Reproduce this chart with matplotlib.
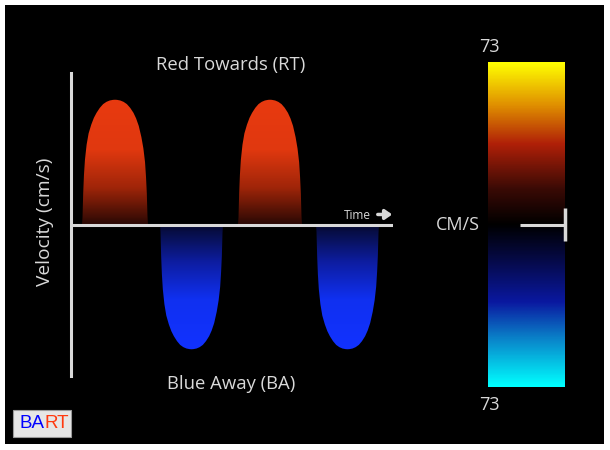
import matplotlib.pyplot as plt
import numpy as np
from matplotlib.colors import LinearSegmentedColormap
from matplotlib.patches import Polygon, Rectangle
from matplotlib.text import Annotation

# pulse outline: fraction of pulse width, fraction of peak
shape_t = [0.0, 0.008, 0.018, 0.03, 0.045, 0.07, 0.10, 0.14, 0.18, 0.22, 0.27,
           0.32, 0.37, 0.42, 0.47, 0.50, 0.53, 0.58, 0.63, 0.68, 0.73, 0.78,
           0.82, 0.86, 0.90, 0.93, 0.955, 0.97, 0.982, 0.992, 1.0]
shape_h = [0.0, 0.06, 0.25, 0.40, 0.52, 0.64, 0.73, 0.80, 0.855, 0.895, 0.935,
           0.965, 0.983, 0.994, 0.999, 1.0, 0.999, 0.994, 0.983, 0.965, 0.935, 0.895,
           0.85, 0.79, 0.70, 0.61, 0.50, 0.38, 0.25, 0.07, 0.0]

# pulses: start (s), end (s), peak velocity (cm/s)
pulse_start = [0.11, 0.89, 1.67, 2.45]
pulse_end = [0.77, 1.52, 2.31, 3.08]
pulse_peak = [56, -56, 56, -56]

t_max = 3.22
v_lim = 68
scale_max = 73

scale_pos = [0.0, 0.15, 0.26, 0.41, 0.5, 0.61, 0.75, 0.87, 1.0]
scale_cols = ['#00ffff', '#0a80c8', '#0a18a0', '#05083a', '#000000',
              '#3a0a05', '#b02008', '#e09000', '#ffff00']

wave_pos = [0.0, 0.2, 0.35, 0.499, 0.501, 0.65, 0.8, 1.0]
wave_cols = ['#1232ff', '#1030f0', '#0d1da0', '#060a30', '#2a0804', '#a02509', '#e0380f', '#e83a10']

fg = '#d9d9d9'
font = 'Open Sans'

fig = plt.figure(figsize=(6.1, 4.5), dpi=100, facecolor='white')
bg = fig.add_axes([5 / 610, 1 - 444 / 450, 599 / 610, 439 / 450])
bg.set_facecolor('black')
bg.set_xticks([])
bg.set_yticks([])
for s in bg.spines.values():
    s.set_visible(False)

# waveform
ax = fig.add_axes([71 / 610, 1 - 376 / 450, 322 / 610, 303 / 450])
ax.set_facecolor('none')
ax.set_xlim(0, t_max)
ax.set_ylim(-v_lim, v_lim)

t_all, v_all = [0.0], [0.0]
for a, b, p in zip(pulse_start, pulse_end, pulse_peak):
    t_all += [a + f * (b - a) for f in shape_t]
    v_all += [p * h for h in shape_h]
t_all.append(t_max)
v_all.append(0.0)

wave_cmap = LinearSegmentedColormap.from_list('wave', list(zip(wave_pos, wave_cols)))
grad = np.linspace(-v_lim, v_lim, 600).reshape(-1, 1)
im = ax.imshow(grad, cmap=wave_cmap, vmin=-56, vmax=56, origin='lower',
               extent=[0, t_max, -v_lim, v_lim], aspect='auto', zorder=1)
clip = Polygon(np.column_stack([t_all, v_all]), closed=True, transform=ax.transData)
im.set_clip_path(clip)

ax.axhline(0, color=fg, lw=2.2, zorder=3)
for s in ['top', 'right', 'bottom']:
    ax.spines[s].set_visible(False)
ax.spines['left'].set_color(fg)
ax.spines['left'].set_linewidth(2.2)
ax.set_xticks([])
ax.set_yticks([])

ax.text(0.497, 1.027, 'Red Towards (RT)', transform=ax.transAxes, ha='center', va='center',
        color=fg, fontsize=13.3, family=font)
ax.text(0.497, -0.027, 'Blue Away (BA)', transform=ax.transAxes, ha='center', va='center',
        color=fg, fontsize=13.3, family=font)
ax.text(-0.082, 0.51, 'Velocity (cm/s)', transform=ax.transAxes, ha='center', va='center',
        rotation=90, color=fg, fontsize=13.8, family=font)
ax.text(3.0, 4.2, 'Time', ha='right', va='center', color=fg, fontsize=8.5, family=font)
ax.annotate('', xy=(3.24, 4.5), xytext=(3.04, 4.5), annotation_clip=False,
            arrowprops=dict(arrowstyle='-|>,head_width=0.28,head_length=0.4', lw=2.5, color=fg))

# colour scale
cax = fig.add_axes([488 / 610, 1 - 387 / 450, 77 / 610, 325 / 450])
scale_cmap = LinearSegmentedColormap.from_list('scale', list(zip(scale_pos, scale_cols)))
sgrad = np.linspace(-scale_max, scale_max, 600).reshape(-1, 1)
cax.imshow(sgrad, cmap=scale_cmap, vmin=-scale_max, vmax=scale_max, origin='lower',
           extent=[0, 1, -scale_max, scale_max], aspect='auto')
cax.set_xlim(0, 1)
cax.set_ylim(-scale_max, scale_max)
cax.set_xticks([])
cax.set_yticks([])
for s in cax.spines.values():
    s.set_visible(False)
cax.plot([0.416, 1.0], [0, 0], color=fg, lw=2.2, clip_on=False, solid_capstyle='butt')
cax.plot([1.0, 1.0], [-7.6, 7.6], color=fg, lw=2.5, clip_on=False, solid_capstyle='butt')
cax.text(0.013, 1.046, str(scale_max), transform=cax.transAxes, ha='center', va='center',
         color=fg, fontsize=13, family=font)
cax.text(0.013, -0.055, str(scale_max), transform=cax.transAxes, ha='center', va='center',
         color=fg, fontsize=13, family=font)
cax.text(-0.39, 0.5, 'CM/S', transform=cax.transAxes, ha='center', va='center',
         color=fg, fontsize=13, family=font)

# BART badge
fig.patches.append(Rectangle((13 / 610, 1 - 437 / 450), 58 / 610, 27 / 450,
                             transform=fig.transFigure, facecolor='#e6e6e6',
                             edgecolor='#9a9a9a', lw=0.8, zorder=5))
ba = fig.text(19.5 / 610, 1 - 423.5 / 450, 'BA', color='#0000ff', fontsize=13.5,
              family='Liberation Sans', ha='left', va='center', zorder=6)
fig.add_artist(Annotation('RT', xy=(1, 0), xycoords=ba, ha='left', va='bottom',
                          color='#ff3a10', fontsize=13.5, family='Liberation Sans',
                          annotation_clip=False, zorder=6))

fig.savefig('out.png', dpi=100, facecolor='white')
